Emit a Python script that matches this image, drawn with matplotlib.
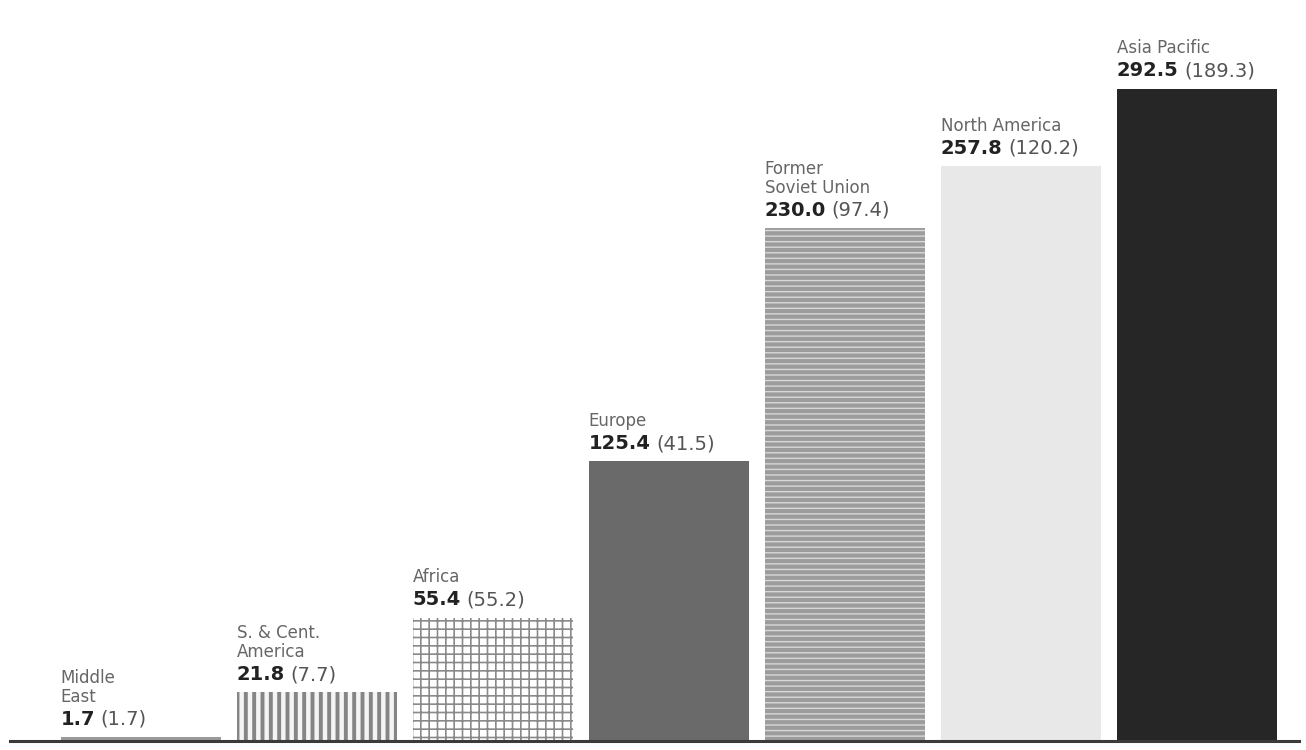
import matplotlib
matplotlib.use("Agg")
import matplotlib.pyplot as plt
import numpy as np

# Regions, totals and (bracketed) sub-totals, left to right
regions = ["Middle\nEast", "S. & Cent.\nAmerica", "Africa", "Europe",
           "Former\nSoviet Union", "North America", "Asia Pacific"]
totals = [1.7, 21.8, 55.4, 125.4, 230.0, 257.8, 292.5]
subtotals = [1.7, 7.7, 55.2, 41.5, 97.4, 120.2, 189.3]

# bar styling: (face, hatch, hatch colour, hatch linewidth)
styles = [
    ("#9a9a9a", None, "#9a9a9a", 1.0),
    ("#f4f4f4", "||", "#858585", 2.8),
    ("#ffffff", "++", "#8a8a8a", 1.2),
    ("#6a6a6a", None, "#6a6a6a", 1.0),
    ("#9c9c9c", "---", "#d8d8d8", 1.0),
    ("#e8e8e8", None, "#e8e8e8", 1.0),
    ("#262626", None, "#262626", 1.0),
]

fig = plt.figure(figsize=(13.06, 7.5), dpi=100)
ax = fig.add_axes([0, 0, 1, 1])

x = np.arange(len(totals))
width = 0.91
bars = []
for xi, val, (face, hatch, hcol, hlw) in zip(x, totals, styles):
    plt.rcParams["hatch.linewidth"] = hlw
    b = ax.bar(xi, val, width=width, color=face, hatch=hatch,
               edgecolor=hcol, linewidth=0, zorder=2)
    bars.append(b[0])

ax.axhline(0, xmin=0.008, xmax=0.995, color="#3a3a3a", lw=2.2, zorder=3)

for bar, name, val, sub in zip(bars, regions, totals, subtotals):
    left = bar.get_x()
    top = bar.get_height()
    t_val = ax.annotate(f"{val:.1f}", xy=(left, top), xytext=(0, 6),
                        textcoords="offset points", ha="left", va="bottom",
                        fontsize=14, fontweight="bold", color="#222222")
    ax.annotate(f"({sub:.1f})", xy=(1, 0), xycoords=t_val, xytext=(4, 0),
                textcoords="offset points",
                ha="left", va="bottom", fontsize=14, color="#555555")
    ax.annotate(name, xy=(0, 1), xycoords=t_val, xytext=(0, 3),
                textcoords="offset points", ha="left", va="bottom",
                fontsize=12, color="#666666", linespacing=1.05)

ax.set_xlim(-0.80, 6.62)
ax.set_ylim(-4.0, 332.3)
ax.axis("off")

fig.savefig("out.png", dpi=100, facecolor="white")
